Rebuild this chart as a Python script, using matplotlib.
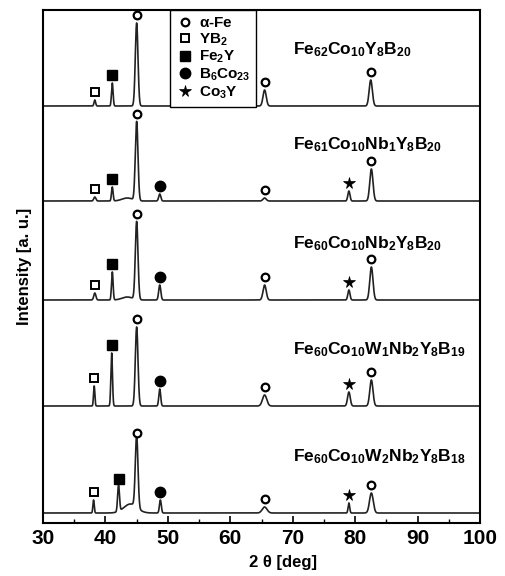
import matplotlib.pyplot as plt
import numpy as np
from matplotlib.lines import Line2D

plt.rcParams['font.family'] = ['Liberation Sans', 'DejaVu Sans']
plt.rcParams['font.weight'] = 'bold'
plt.rcParams['mathtext.fontset'] = 'custom'
plt.rcParams['mathtext.rm'] = 'Liberation Sans:bold'
plt.rcParams['mathtext.bf'] = 'Liberation Sans:bold'
plt.rcParams['mathtext.it'] = 'Liberation Sans:italic:bold'
plt.rcParams['mathtext.default'] = 'rm'

# samples, top to bottom
samples = [r'Fe$_{62}$Co$_{10}$Y$_8$B$_{20}$',
           r'Fe$_{61}$Co$_{10}$Nb$_1$Y$_8$B$_{20}$',
           r'Fe$_{60}$Co$_{10}$Nb$_2$Y$_8$B$_{20}$',
           r'Fe$_{60}$Co$_{10}$W$_1$Nb$_2$Y$_8$B$_{19}$',
           r'Fe$_{60}$Co$_{10}$W$_2$Nb$_2$Y$_8$B$_{18}$']
offsets = [417, 322, 223, 117, 10]

# peaks: position (deg), height (a.u.), FWHM (deg), phase
peak_pos = [[38.3, 41.1, 45.0, 65.5, 82.5],
            [38.3, 41.1, 43.5, 45.0, 48.7, 65.5, 79.0, 82.6],
            [38.3, 41.1, 43.5, 45.0, 48.7, 65.5, 79.0, 82.6],
            [38.2, 41.0, 45.0, 48.7, 65.5, 79.0, 82.6],
            [38.1, 42.1, 44.0, 45.0, 48.8, 65.5, 79.0, 82.6]]
peak_height = [[6, 23, 83, 16, 26],
               [4, 14, 3, 79, 7, 3, 10, 32],
               [7, 28, 3, 78, 15, 15, 10, 33],
               [20, 53, 79, 17, 11, 14, 26],
               [13, 26, 9, 72, 13, 6, 10, 20]]
peak_fwhm = [[0.3, 0.3, 0.5, 0.6, 0.6],
             [0.4, 0.3, 2.0, 0.5, 0.4, 0.6, 0.4, 0.6],
             [0.4, 0.3, 2.0, 0.5, 0.4, 0.6, 0.4, 0.6],
             [0.25, 0.3, 0.5, 0.35, 0.8, 0.5, 0.6],
             [0.25, 0.35, 2.5, 0.5, 0.35, 0.9, 0.3, 0.7]]
peak_phase = [['YB2', 'Fe2Y', 'aFe', 'aFe', 'aFe'],
              ['YB2', 'Fe2Y', None, 'aFe', 'B6Co23', 'aFe', 'Co3Y', 'aFe'],
              ['YB2', 'Fe2Y', None, 'aFe', 'B6Co23', 'aFe', 'Co3Y', 'aFe'],
              ['YB2', 'Fe2Y', 'aFe', 'B6Co23', 'aFe', 'Co3Y', 'aFe'],
              ['YB2', 'Fe2Y', None, 'aFe', 'B6Co23', 'aFe', 'Co3Y', 'aFe']]

phases = ['aFe', 'YB2', 'Fe2Y', 'B6Co23', 'Co3Y']
phase_labels = [r'$\alpha$-Fe', r'YB$_2$', r'Fe$_2$Y', r'B$_6$Co$_{23}$', r'Co$_3$Y']
phase_style = {
    'aFe': dict(marker='o', mfc='white', mec='black', ms=5.5, mew=1.6),
    'YB2': dict(marker='s', mfc='white', mec='black', ms=5.5, mew=1.4),
    'Fe2Y': dict(marker='s', mfc='black', mec='black', ms=6.5, mew=1),
    'B6Co23': dict(marker='o', mfc='black', mec='black', ms=7.5, mew=1),
    'Co3Y': dict(marker='*', mfc='black', mec='black', ms=8.5, mew=0.5),
}

fig = plt.figure(figsize=(5.06, 5.76), dpi=100)
ax = fig.add_axes([43 / 506, 53 / 576, 437 / 506, 513 / 576])

two_theta = np.linspace(30, 100, 3501)
for name, base, pos, hgt, wid, ph in zip(samples, offsets, peak_pos,
                                         peak_height, peak_fwhm, peak_phase):
    y = np.zeros_like(two_theta)
    for p, h, w in zip(pos, hgt, wid):
        s = w / 2.355
        y += h * np.exp(-0.5 * ((two_theta - p) / s) ** 2)
    ax.plot(two_theta, y + base, color='#222222', lw=1.2)
    for p, h, k in zip(pos, hgt, ph):
        if k is None:
            continue
        ax.plot(p, base + h + 8, ls='none', **phase_style[k])
    ax.text(70, base + 56, name, fontsize=12.5, fontweight='bold',
            ha='left', va='center')

handles = [Line2D([], [], ls='none', **phase_style[k]) for k in phases]
leg = ax.legend(handles, phase_labels, loc='upper left',
                bbox_to_anchor=(0.29, 1.0), borderaxespad=0,
                fancybox=False, edgecolor='black', framealpha=1,
                prop={'size': 11, 'weight': 'bold'}, handletextpad=0.3,
                labelspacing=0.08, handlelength=1.2, borderpad=0.4)
leg.get_frame().set_linewidth(1.0)

ax.set_xlim(30, 100)
ax.set_ylim(0, 513)
ax.set_xticks(np.arange(30, 101, 10))
ax.set_xticks(np.arange(35, 100, 10), minor=True)
ax.set_yticks([])
ax.tick_params(axis='x', which='major', direction='in', length=5, width=1.2,
               labelsize=15, pad=4)
ax.tick_params(axis='x', which='minor', direction='in', length=3, width=1)
for lab in ax.get_xticklabels():
    lab.set_fontweight('bold')
for s in ax.spines.values():
    s.set_linewidth(1.5)

ax.set_xlabel('2 θ [deg]', fontsize=12, fontweight='bold')
ax.xaxis.set_label_coords(0.549, -0.062)
ax.set_ylabel('Intensity [a. u.]', fontsize=12, fontweight='bold', labelpad=8)

fig.savefig('out.png', dpi=100)
